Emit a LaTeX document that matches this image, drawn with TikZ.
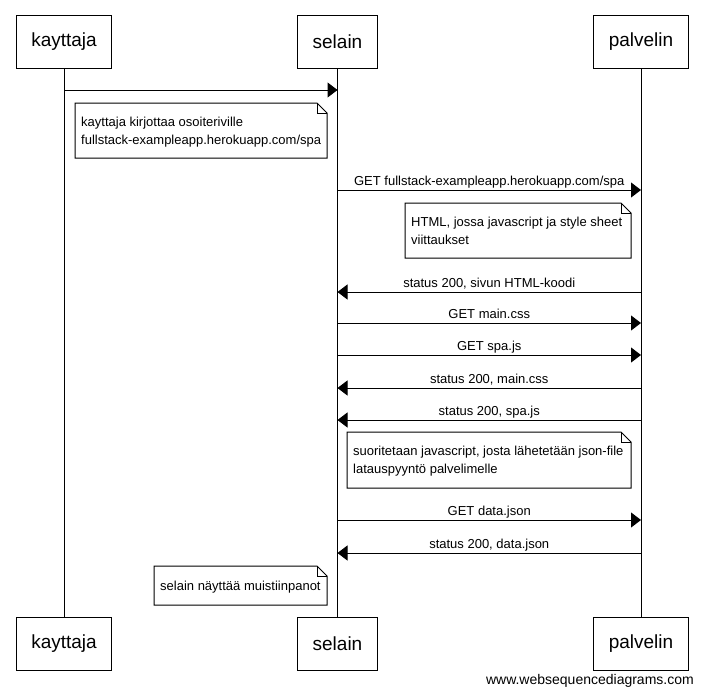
\documentclass[tikz,border=0pt]{standalone}
\usepackage{fontspec}
\setmainfont{Liberation Sans}
\usetikzlibrary{arrows.meta}

\tikzset{
  actor/.style={draw, fill=white, line width=1pt, minimum height=53pt,
    inner xsep=15pt, font=\fontsize{19}{22}\selectfont},
  lifeline/.style={line width=1pt},
  msg/.style={line width=1pt, -{Triangle[length=10pt,width=15pt]}},
  lbl/.style={anchor=base, inner sep=0pt, yshift=4.5pt, font=\fontsize{13}{16}\selectfont},
  notebox/.style={draw, fill=white, line width=1pt},
  notetext/.style={anchor=base west, inner sep=0pt, font=\fontsize{13}{16}\selectfont},
  wmtext/.style={anchor=base east, inner sep=0pt, font=\fontsize{14}{16}\selectfont}
}

% folded-corner note: #1,#2 top-left, #3,#4 bottom-right
\newcommand{\foldnote}[4]{%
  \draw[notebox] (#1,#2) -- (#3-10,#2) -- (#3,#2+10) -- (#3,#4) -- (#1,#4) -- cycle;
  \draw[line width=1pt] (#3-10,#2) -- (#3-10,#2+10) -- (#3,#2+10);
}

\begin{document}
\begin{tikzpicture}[x=1pt,y=-1pt]
\useasboundingbox (0,0) rectangle (702,694);

% participants
\node[actor] (kt) at (64,41.5) {kayttaja};
\node[actor] (st) at (337.5,41.5) {selain};
\node[actor] (pt) at (641,41.5) {palvelin};
\node[actor] (kb) at (64,643.5) {kayttaja};
\node[actor] (sb) at (337.5,643.5) {selain};
\node[actor] (pb) at (641,643.5) {palvelin};

% lifelines
\draw[lifeline] (kt.south) -- (kb.north);
\draw[lifeline] (st.south) -- (sb.north);
\draw[lifeline] (pt.south) -- (pb.north);

% messages
\draw[msg] (kt |- 0,90) -- (st |- 0,90);

\foldnote{75}{103}{327}{158}
\node[notetext] (n1a) at (81,126.5) {kayttaja kirjottaa osoiteriville};
\node[notetext] (n1b) at (81,144.5) {fullstack-exampleapp.herokuapp.com/spa};

\draw[msg] (st |- 0,190) -- node[lbl] {GET fullstack-exampleapp.herokuapp.com/spa} (pt |- 0,190);

\foldnote{405}{203}{631}{258}
\node[notetext] (n2a) at (411,226.5) {HTML, jossa javascript ja style sheet};
\node[notetext] (n2b) at (411,244.5) {viittaukset};

\draw[msg] (pt |- 0,292) -- node[lbl] {status 200, sivun HTML-koodi} (st |- 0,292);
\draw[msg] (st |- 0,323) -- node[lbl] {GET main.css} (pt |- 0,323);
\draw[msg] (st |- 0,355) -- node[lbl] {GET spa.js} (pt |- 0,355);
\draw[msg] (pt |- 0,388) -- node[lbl] {status 200, main.css} (st |- 0,388);
\draw[msg] (pt |- 0,420) -- node[lbl] {status 200, spa.js} (st |- 0,420);

\foldnote{347}{432}{631}{488}
\node[notetext] (n3a) at (353,455.5) {suoritetaan javascript, josta lähetetään json-file};
\node[notetext] (n3b) at (353,473.5) {latauspyyntö palvelimelle};

\draw[msg] (st |- 0,520) -- node[lbl] {GET data.json} (pt |- 0,520);
\draw[msg] (pt |- 0,553) -- node[lbl] {status 200, data.json} (st |- 0,553);

\foldnote{154}{566}{327}{605}
\node[notetext] (n4a) at (160,590) {selain näyttää muistiinpanot};

\node[wmtext] (wm) at (694,684) {www.websequencediagrams.com};
\end{tikzpicture}
\end{document}
